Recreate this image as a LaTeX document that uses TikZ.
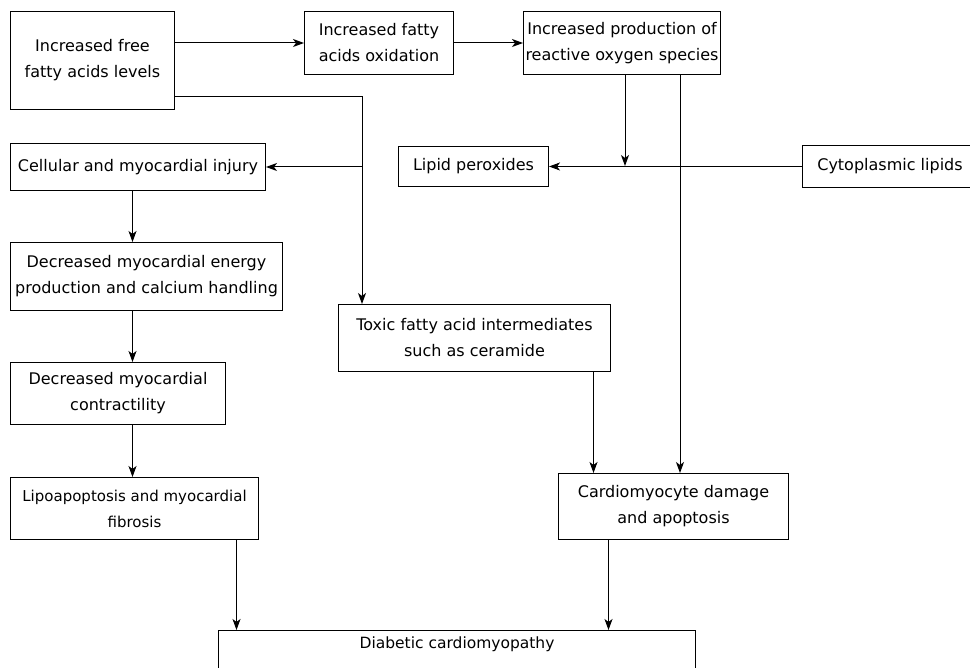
\documentclass[tikz,border=0pt]{standalone}
\usepackage{fontspec}
\setmainfont{DejaVu Sans}
\usetikzlibrary{positioning,arrows.meta}

\begin{document}
\begin{tikzpicture}[x=1pt,y=-1pt,
  box/.style={draw, line width=1pt, align=center, anchor=north west, inner sep=2pt, font=\fontsize{16}{26}\selectfont},
  arr/.style={line width=1pt, ->, >={Stealth[length=11pt,width=8pt,inset=3pt]}}]
  \useasboundingbox (0,0) rectangle (970,668);
  % top row
  \node[box, minimum width=164pt, minimum height=98pt] (ffa) at (10,11) {Increased free\\fatty acids levels};
  \node[box, minimum width=149pt, minimum height=63pt] (oxid) at (304,11) {Increased fatty\\acids oxidation};
  \node[box, minimum width=194pt, minimum height=63pt] (ros) at (523,11) {Increased production of\\reactive oxygen species};
  % middle
  \node[box, minimum width=255pt, minimum height=47pt] (injury) at (10,143) {Cellular and myocardial injury};
  \node[box, minimum width=150pt, minimum height=40pt] (perox) at (398,146) {Lipid peroxides};
  \node[box, minimum width=175pt, minimum height=42pt] (cyto) at (802,145) {Cytoplasmic lipids};
  \node[box, minimum width=272pt, minimum height=68pt] (energy) at (10,242) {Decreased myocardial energy\\production and calcium handling};
  \node[box, minimum width=215pt, minimum height=62pt] (contract) at (10,362) {Decreased myocardial\\contractility};
  \node[box, minimum width=272pt, minimum height=67pt] (toxic) at (338,304) {Toxic fatty acid intermediates\\such as ceramide};
  % lower
  \node[box, minimum width=248pt, minimum height=62pt, font=\fontsize{15}{26}\selectfont] (lipo) at (10,477) {Lipoapoptosis and myocardial\\fibrosis};
  \node[box, minimum width=230pt, minimum height=66pt] (damage) at (558,473) {Cardiomyocyte damage\\and apoptosis};
  \node[box, minimum width=477pt, inner sep=6pt, text depth=60pt, font=\fontsize{15.5}{26}\selectfont] (dcm) at (218,630) {Diabetic cardiomyopathy};

  \coordinate (split) at (362,97);
  \coordinate (meet) at (625,166);

  \draw[arr] (ffa.east |- oxid.west) -- (oxid.west);
  \draw[arr] (oxid.east) -- (ros.west);
  \draw[arr] (split -| ffa.east) -- (split) -- (split |- toxic.north);
  \draw[arr] (split |- injury.east) -- (injury.east);
  \draw[arr] (meet |- ros.south) -- (meet);
  \draw[arr] (cyto.west) -- (perox.east);
  \draw[arr] ([xshift=58pt]ros.south) -- ([xshift=58pt]ros.south |- damage.north);
  \draw[arr] ([xshift=119pt]toxic.south) -- ([xshift=119pt]toxic.south |- damage.north);
  \draw[arr] ([xshift=-5.5pt]injury.south) -- ([xshift=-5.5pt]injury.south |- energy.north);
  \draw[arr] ([xshift=-14pt]energy.south) -- ([xshift=-14pt]energy.south |- contract.north);
  \draw[arr] ([xshift=14.5pt]contract.south) -- ([xshift=14.5pt]contract.south |- lipo.north);
  \draw[arr] ([xshift=102pt]lipo.south) -- ([xshift=102pt]lipo.south |- dcm.north);
  \draw[arr] ([xshift=-65pt]damage.south) -- ([xshift=-65pt]damage.south |- dcm.north);
\end{tikzpicture}
\end{document}
